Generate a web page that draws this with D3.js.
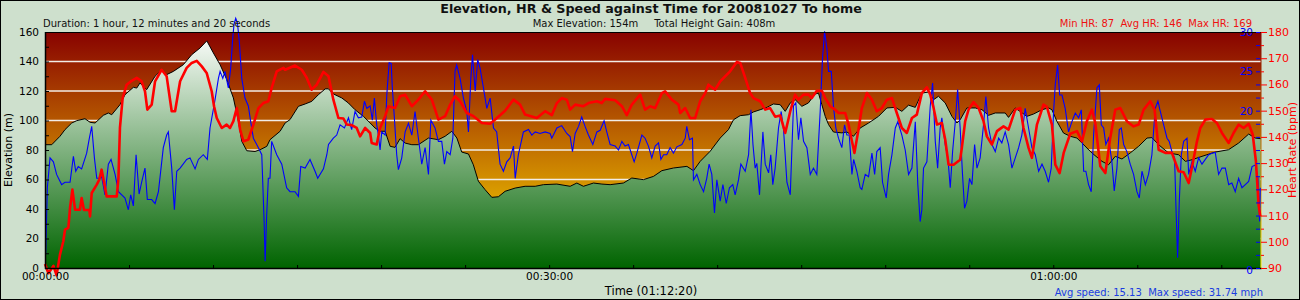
<!DOCTYPE html>
<html><head><meta charset="utf-8">
<script src="https://cdn.jsdelivr.net/npm/d3@7"></script>
<style>
body{margin:0;background:#fff}
svg{display:block}
text{font-family:"DejaVu Sans",Verdana,sans-serif}
</style>
</head><body>
<svg id="c" width="1300" height="300"></svg>
<script>
// ---------- DATA ----------
const durationMin = 72.333;
const timeTickValues = [0, 30, 60];
const timeTickLabels = ["00:00:00", "00:30:00", "01:00:00"];
const elevTickValues = [0, 20, 40, 60, 80, 100, 120, 140, 160];
const hrTickValues = [90, 100, 110, 120, 130, 140, 150, 160, 170, 180];
const speedTickValues = [0, 5, 10, 15, 20, 25, 30];
const titleText = "Elevation, HR & Speed against Time for 20081027 To home";
const durationText = "Duration: 1 hour, 12 minutes and 20 seconds";
const elevStatsText = "Max Elevation: 154m     Total Height Gain: 408m";
const hrStatsText = "Min HR: 87  Avg HR: 146  Max HR: 169";
const speedStatsText = "Avg speed: 15.13  Max speed: 31.74 mph";
const xTitle = "Time (01:12:20)";

// [minutes, metres]
const elevation = [[0,83.6],[0.40,83.6],[0.89,89.3],[1.19,93.8],[1.59,98.3],[1.89,99.9],[2.38,101.2],[2.68,98.8],[2.98,98.3],[3.47,103.5],[3.77,105.1],[3.97,103.9],[4.46,110.7],[4.76,117.5],[5.26,122.5],[5.46,122],[5.65,125.4],[6.05,120.9],[6.55,130],[6.95,134.5],[7.24,131.1],[7.64,133.3],[8.23,137.8],[8.73,144.6],[9.23,149.2],[9.63,154],[10.02,145.8],[10.42,137.8],[10.82,127.7],[11.21,115.3],[11.51,99.4],[11.71,85.9],[12.01,79.5],[12.50,79],[12.80,80.2],[13.20,82.5],[13.39,87],[13.99,92.7],[14.29,98.3],[14.58,100.6],[15.08,109.6],[15.48,111.2],[15.88,113],[16.27,117.5],[16.67,121.4],[16.86,121.5],[17.16,118],[17.66,115.3],[18.05,111.9],[18.45,107.3],[18.95,102.8],[19.35,98.3],[19.64,94.9],[19.94,92.7],[20.24,92.7],[20.54,82.5],[20.83,81.8],[21.13,87.7],[21.43,84.7],[21.83,83.6],[22.22,83.6],[22.82,88.1],[23.41,87],[23.81,89.3],[24.21,92.7],[24.51,88.1],[24.80,78.6],[25.20,77.3],[25.49,70],[25.79,58.8],[26.19,53.1],[26.59,47.9],[26.98,48.3],[27.38,52],[27.98,54.2],[28.57,55.4],[29.17,55.4],[29.66,56.5],[30.46,56.9],[31.25,55.4],[31.65,57.6],[32.04,55.4],[32.64,57.6],[33.14,56.9],[33.63,56.5],[34.42,57.6],[34.92,61],[35.61,59.9],[36.21,62.1],[36.71,66],[37.40,67.8],[38.20,68.9],[38.59,66],[38.99,72.3],[39.58,79.1],[40.18,88.1],[40.67,93.8],[40.97,100.5],[41.37,103.3],[41.86,103.9],[42.16,105.8],[42.56,107.3],[42.96,108.9],[43.35,111.2],[43.75,110.7],[44.05,106.2],[44.35,111.9],[44.64,114.1],[45.04,109.6],[45.43,111.9],[45.83,118],[46.03,118.5],[46.23,110.7],[46.43,102.8],[46.63,97.2],[46.92,92.2],[47.42,91.6],[47.72,92.2],[48.11,89.3],[48.51,94.9],[49.01,98.3],[49.60,102.8],[50.10,108.5],[50.60,108.9],[50.99,106.2],[51.39,110.4],[51.79,108.9],[52.18,118.6],[52.58,119.3],[52.88,114.1],[53.17,116.4],[53.57,111.9],[53.97,102.8],[54.27,98.3],[54.46,100.5],[54.86,108.5],[55.36,108.5],[55.76,107.3],[56.15,103.5],[56.55,105.1],[57.14,105.1],[57.34,102.1],[57.74,108.5],[58.43,102.8],[58.83,104.4],[59.33,107.3],[59.72,108.5],[59.92,107.3],[60.22,99.4],[60.61,91.5],[61.01,89.3],[61.41,88.1],[61.71,84.7],[62.30,78],[62.90,72.3],[63.29,70],[63.69,75.7],[64.09,73.9],[64.58,78],[65.08,82.5],[65.58,88.1],[65.87,88.4],[66.27,83.6],[66.86,78],[67.46,76.8],[67.86,72.3],[68.26,73.4],[68.85,75.7],[69.64,78.6],[70.43,80.2],[71.03,84.7],[71.63,90.8],[72.02,88.1],[72.33,87.7]];

// [minutes, bpm]
const heartRate = [[0,91.5],[0.2,88],[0.5,90.8],[0.69,87.2],[0.89,95.1],[1.09,100.2],[1.19,104.6],[1.39,105.3],[1.49,112.9],[1.63,119.9],[1.79,112.2],[2.08,112.2],[2.18,116.7],[2.32,112.1],[2.64,112.1],[2.68,109.7],[2.78,118.6],[3.08,121.8],[3.23,123.7],[3.37,127.5],[3.51,122.9],[3.67,117.3],[4.27,117.3],[4.37,124.3],[4.46,143.4],[4.62,154.8],[4.86,159.9],[5.16,161.4],[5.46,162.5],[5.75,161.2],[5.95,157.4],[6.09,150.4],[6.35,152.3],[6.55,161.2],[6.94,165.6],[7.24,163.1],[7.54,149.8],[7.74,149.8],[8.04,161.2],[8.43,166.3],[8.73,168.2],[9.03,169],[9.33,166.9],[9.62,164.4],[9.92,157.4],[10.06,151.7],[10.22,147.2],[10.52,143.4],[10.81,144.7],[11.01,143.4],[11.21,146],[11.41,151],[11.61,142.8],[11.81,138.3],[12.10,139],[12.40,144.7],[12.70,151],[12.99,152.9],[13.29,153.6],[13.49,158.7],[13.79,165],[14.19,166.3],[14.29,165.6],[14.88,167.2],[15.28,165.6],[15.58,162.5],[15.87,158],[16.17,159.9],[16.57,164.8],[16.87,163.1],[17.16,154.2],[17.46,147.2],[17.76,147],[17.96,144.7],[18.25,144.5],[18.55,143.4],[18.75,140.2],[19.05,143.4],[19.35,141.5],[19.44,137.7],[19.74,137.1],[19.94,143.4],[20.24,147.9],[20.44,151.7],[20.83,151],[21.13,155.5],[21.43,156.1],[21.83,151.7],[22.22,154.2],[22.62,157.4],[23.02,154.2],[23.41,146.6],[23.81,147.9],[24.11,152.3],[24.40,155.5],[24.70,153.6],[25.10,149.1],[25.50,147.9],[26.00,145.3],[26.49,145],[26.79,146.6],[27.38,150],[27.88,154.2],[28.27,152.3],[28.57,148.5],[29.27,147.2],[29.76,149.8],[30.16,148.3],[30.46,152.9],[30.75,154.8],[31.05,154.2],[31.25,150.4],[31.55,152.3],[32.04,151.7],[32.34,152.9],[32.84,153.6],[33.13,152.9],[33.33,154.5],[33.93,154],[34.33,151.7],[34.62,148.3],[34.92,152.3],[35.42,156.1],[35.71,150.4],[36.01,151.7],[36.31,151],[36.71,156.7],[36.90,157.4],[37.30,154.2],[37.70,152.3],[37.80,149.1],[38.10,151],[38.39,147.2],[38.69,147.2],[38.99,153.6],[39.29,156.7],[39.48,159.9],[39.88,158],[40.18,161.2],[40.77,165],[41.17,168.6],[41.37,168.2],[41.67,162.5],[41.96,156.7],[42.16,154.8],[42.56,153.6],[42.86,150.4],[43.15,151],[43.45,147.7],[43.75,148.2],[44.05,141.5],[44.35,149.8],[44.64,156.1],[44.84,154.2],[45.14,156.1],[45.44,156.1],[45.63,154.8],[45.93,157.6],[46.23,157.6],[46.43,154.8],[46.73,151.7],[47.02,150.4],[47.22,149.1],[47.62,149.1],[47.82,144.7],[48.02,138.3],[48.17,133.9],[48.41,142.8],[48.61,151],[48.91,156.7],[49.21,154.2],[49.50,149.8],[49.80,151],[50.10,154.2],[50.40,154.8],[50.69,149.1],[50.99,143.4],[51.29,141.5],[51.59,147.2],[51.88,148.5],[52.18,156.7],[52.48,158.9],[52.68,156.1],[52.88,151],[53.08,144.7],[53.37,145.3],[53.57,139],[53.77,129.4],[54.07,129.4],[54.46,131.3],[54.56,135.8],[54.76,146],[54.96,150.4],[55.26,153.3],[55.56,151],[55.85,146],[56.05,140.2],[56.35,137.1],[56.65,142.2],[57.04,144],[57.34,142.8],[57.74,150.4],[58.04,151],[58.23,143.4],[58.53,135.8],[58.73,132],[59.03,144.7],[59.42,152.3],[59.62,151.5],[59.92,144.7],[60.12,129.4],[60.38,126.2],[60.62,133.9],[61.01,141.2],[61.41,142.2],[61.71,138.3],[62.00,146],[62.30,150.4],[62.50,145.3],[62.80,128.8],[63.10,126.2],[63.39,139.6],[63.69,150.4],[63.99,151],[64.38,146],[64.78,144],[65.08,144.7],[65.38,150.4],[65.77,153.6],[66.03,150.4],[66.27,135.1],[66.67,133.9],[67.06,133.9],[67.46,126.9],[67.76,126.5],[68.06,122.4],[68.25,128.2],[68.55,138.2],[68.75,143.4],[69.05,146.6],[69.44,146.8],[69.74,145.3],[70.04,141.5],[70.44,137.7],[70.73,141.5],[71.03,144.7],[71.33,143.4],[71.63,145],[71.87,140.9],[72.06,130.7],[72.22,114.1],[72.32,109.7]];

// [minutes, mph]
const speed = [[0.04,1.7],[0.14,10.2],[0.30,14.0],[0.50,13.5],[0.69,11.9],[0.99,10.6],[1.19,10.9],[1.49,10.9],[1.69,14.2],[1.83,12.3],[1.98,12.9],[2.18,12.6],[2.48,14.6],[2.64,16.5],[2.78,18.0],[2.94,14.0],[3.08,11.4],[3.27,11.4],[3.37,11.6],[3.57,9.3],[3.77,13.2],[3.93,13.8],[4.17,11.9],[4.37,9.7],[4.76,8.9],[4.96,7.4],[5.10,9.3],[5.26,7.9],[5.42,14.4],[5.60,9.4],[5.75,10.9],[5.95,12.7],[6.09,8.7],[6.35,8.7],[6.55,8.2],[6.75,9.7],[7.04,15.3],[7.24,16.9],[7.34,17.3],[7.54,12.7],[7.70,7.4],[7.84,12.3],[8.04,12.7],[8.43,13.8],[8.63,14.0],[8.93,12.6],[9.13,13.8],[9.42,14.4],[9.66,13.8],[9.82,17.8],[10.12,21.4],[10.32,24.1],[10.42,25.0],[10.58,24.1],[10.71,25.0],[10.91,22.9],[11.05,25.4],[11.17,29.2],[11.25,31.0],[11.35,31.74],[11.45,31.2],[11.57,28.6],[11.71,24.1],[11.90,21.6],[12.10,20.6],[12.24,18.6],[12.40,16.5],[12.70,15.3],[12.90,14.4],[13.04,5.9],[13.10,0.85],[13.19,6.6],[13.29,11.4],[13.39,11.4],[13.49,16.1],[13.79,14.4],[14.09,13.2],[14.38,10.2],[14.58,9.7],[14.88,9.7],[15.08,9.1],[15.22,12.9],[15.48,12.7],[15.77,13.8],[16.07,12.3],[16.23,11.4],[16.57,12.6],[16.77,14.4],[16.87,15.7],[17.16,16.5],[17.36,16.9],[17.56,18.2],[17.82,17.8],[18.06,19.1],[18.25,17.6],[18.45,19.9],[18.65,19.1],[18.85,19.2],[19.01,21.2],[19.15,20.3],[19.35,20.6],[19.48,18.8],[19.60,21.6],[19.74,18.2],[19.84,16.9],[19.94,15.0],[20.04,17.3],[20.24,16.9],[20.34,22.0],[20.48,26.1],[20.60,26.0],[20.67,22.9],[20.79,19.1],[20.93,14.4],[21.03,12.5],[21.23,14.0],[21.43,17.3],[21.63,18.4],[21.83,16.9],[22.02,19.9],[22.22,16.5],[22.42,13.2],[22.62,15.3],[22.82,11.9],[22.96,18.8],[23.21,17.8],[23.41,16.1],[23.61,16.1],[23.77,13.2],[23.91,14.8],[24.11,14.4],[24.27,16.5],[24.40,25.0],[24.50,25.8],[24.70,24.1],[24.90,21.6],[25.10,19.9],[25.20,17.3],[25.34,24.1],[25.44,27.1],[25.60,22.5],[25.75,26.5],[25.89,25.4],[26.09,22.9],[26.29,20.3],[26.49,21.6],[26.69,17.8],[26.88,17.3],[27.08,13.2],[27.28,12.3],[27.48,13.5],[27.68,14.0],[27.88,15.5],[27.98,11.4],[28.17,14.4],[28.47,17.3],[28.77,17.6],[28.97,16.9],[29.17,17.3],[29.46,17.1],[29.76,17.3],[30.06,17.1],[30.16,16.5],[30.46,17.8],[30.75,18.1],[31.05,17.1],[31.25,16.7],[31.39,14.8],[31.55,17.1],[31.75,18.0],[31.94,19.2],[32.14,18.0],[32.34,16.9],[32.60,15.7],[32.84,17.3],[33.04,17.5],[33.27,18.7],[33.43,17.3],[33.63,15.7],[33.93,15.5],[34.13,15.0],[34.33,16.1],[34.52,15.5],[34.72,15.7],[34.92,14.4],[35.06,13.5],[35.22,14.6],[35.52,16.9],[35.71,16.5],[35.91,15.5],[36.11,14.0],[36.31,15.5],[36.51,15.9],[36.65,13.8],[36.81,14.4],[37.00,14.4],[37.20,15.3],[37.40,14.6],[37.60,15.4],[37.90,15.7],[38.10,16.5],[38.19,18.0],[38.35,16.3],[38.53,16.5],[38.59,11.2],[38.79,11.9],[38.99,10.6],[39.19,9.7],[39.38,11.4],[39.52,13.2],[39.68,11.9],[39.84,7.0],[39.98,11.2],[40.18,8.5],[40.34,10.6],[40.54,8.2],[40.73,10.2],[40.93,10.6],[41.07,9.3],[41.27,11.2],[41.41,13.2],[41.67,12.3],[41.87,14.4],[42.01,20.1],[42.13,15.7],[42.26,12.7],[42.36,13.3],[42.52,9.3],[42.72,17.3],[42.86,13.2],[43.06,12.1],[43.19,14.4],[43.31,10.6],[43.45,12.7],[43.65,17.8],[43.81,19.9],[43.95,17.6],[44.15,10.9],[44.35,9.3],[44.54,20.6],[44.68,21.0],[44.84,16.3],[44.98,19.1],[45.14,16.1],[45.34,15.3],[45.54,11.9],[45.73,12.7],[45.93,11.9],[46.13,19.9],[46.27,26.7],[46.39,30.1],[46.53,27.9],[46.63,25.0],[46.79,25.0],[46.92,20.6],[47.06,17.8],[47.22,16.5],[47.42,15.3],[47.58,18.2],[47.72,16.9],[47.86,16.9],[48.02,11.9],[48.12,13.8],[48.31,12.3],[48.51,10.2],[48.61,10.0],[48.81,11.9],[49.01,11.6],[49.21,14.6],[49.37,11.9],[49.50,14.8],[49.70,15.3],[49.84,10.9],[50.06,8.9],[50.20,11.9],[50.40,14.4],[50.60,17.8],[50.75,18.6],[50.99,16.9],[51.19,15.0],[51.39,11.9],[51.59,12.7],[51.79,18.6],[51.94,10.6],[52.08,5.9],[52.18,7.4],[52.28,12.7],[52.48,13.5],[52.68,20.6],[52.82,23.5],[52.98,16.1],[53.12,12.7],[53.27,17.8],[53.37,19.1],[53.57,15.7],[53.73,14.0],[53.87,10.2],[54.01,14.8],[54.17,18.6],[54.31,22.7],[54.46,17.8],[54.60,11.9],[54.72,7.6],[54.86,8.5],[55.02,11.4],[55.16,10.6],[55.32,15.7],[55.46,12.7],[55.65,14.0],[55.85,18.2],[55.99,21.8],[56.15,17.8],[56.35,15.7],[56.55,14.8],[56.75,16.5],[56.94,15.9],[57.14,17.3],[57.34,15.7],[57.54,12.7],[57.74,14.0],[57.94,15.3],[58.13,16.9],[58.33,20.3],[58.53,17.8],[58.73,15.3],[58.93,14.4],[59.13,12.3],[59.33,13.2],[59.52,12.3],[59.72,10.9],[59.88,12.7],[60.02,19.9],[60.12,23.3],[60.26,25.8],[60.38,22.0],[60.52,22.0],[60.71,20.3],[60.91,17.3],[61.11,18.6],[61.31,19.7],[61.51,19.1],[61.67,20.1],[61.81,12.3],[61.94,12.3],[62.10,10.6],[62.26,9.7],[62.40,16.9],[62.60,22.9],[62.74,23.3],[62.86,18.2],[63.00,17.8],[63.13,15.7],[63.29,16.5],[63.49,13.5],[63.63,9.8],[63.79,12.7],[63.93,17.6],[64.05,17.8],[64.19,15.7],[64.38,14.8],[64.58,13.2],[64.78,11.9],[64.98,9.7],[65.12,8.9],[65.28,12.3],[65.48,10.6],[65.67,11.9],[65.87,14.4],[66.07,20.3],[66.23,21.2],[66.37,19.9],[66.57,18.2],[66.77,16.5],[66.90,16.1],[67.06,14.8],[67.22,14.0],[67.30,7.9],[67.40,1.3],[67.50,8.5],[67.62,14.4],[67.76,16.1],[67.96,16.5],[68.06,11.9],[68.25,13.5],[68.45,12.3],[68.65,14.0],[68.85,13.2],[69.05,13.8],[69.25,14.4],[69.44,14.6],[69.64,14.7],[69.84,11.9],[70.04,12.7],[70.24,12.7],[70.44,10.6],[70.63,10.8],[70.83,9.7],[71.03,11.4],[71.23,10.2],[71.43,10.6],[71.63,11.0],[71.83,12.9],[72.02,13.1],[72.18,11.4],[72.28,5.9],[72.32,10.2]];

// ---------- LAYOUT ----------
const W = 1300, H = 300;
const L = 45, R = 1260.5, T = 32, B = 268;
const svg = d3.select("#c");

const x = d3.scaleLinear().domain([0, durationMin]).range([L, R]);
const yE = d3.scaleLinear().domain([0, 160]).range([B, T]);
const yH = d3.scaleLinear().domain([90, 180]).range([B, T]);
const yS = d3.scaleLinear().domain([0, 30]).range([B, T]);

const defs = svg.append("defs");
const gBg = defs.append("linearGradient").attr("id", "bgGrad")
  .attr("gradientUnits", "userSpaceOnUse").attr("x1", 0).attr("x2", 0).attr("y1", T).attr("y2", B);
gBg.append("stop").attr("offset", 0).attr("stop-color", "#880200");
gBg.append("stop").attr("offset", 1).attr("stop-color", "#ffe400");
const gEl = defs.append("linearGradient").attr("id", "elGrad")
  .attr("gradientUnits", "userSpaceOnUse").attr("x1", 0).attr("x2", 0).attr("y1", T).attr("y2", B);
gEl.append("stop").attr("offset", 0).attr("stop-color", "#ffffff");
gEl.append("stop").attr("offset", 1).attr("stop-color", "#006400");

// page background + frame
svg.append("rect").attr("x", 0.5).attr("y", 0.5).attr("width", W - 1).attr("height", H - 1)
  .attr("fill", "#cee0cd").attr("stroke", "#000").attr("stroke-width", 1);

// plot background
svg.append("rect").attr("x", L).attr("y", T).attr("width", R - L + 1).attr("height", B - T)
  .attr("fill", "url(#bgGrad)");

// grid lines (elevation)
svg.append("g").selectAll("line").data(elevTickValues.filter(v => v > 0 && v < 160)).join("line")
  .attr("x1", L).attr("x2", R).attr("y1", d => yE(d)).attr("y2", d => yE(d))
  .attr("stroke", "#f2ece6").attr("stroke-width", 1.3);

// speed labels (behind elevation area)
const spLab = svg.append("g").attr("transform", `translate(${R},0)`)
  .call(d3.axisLeft(yS).tickValues(speedTickValues.filter(v => v > 0)).tickSize(0).tickPadding(7.5));
spLab.select(".domain").remove();
spLab.selectAll("text").attr("fill", "#0000ff").attr("font-size", "10.5px").attr("font-family", "DejaVu Sans");

// elevation area + line
svg.append("path").datum(elevation)
  .attr("d", d3.area().x(d => x(d[0])).y0(B).y1(d => yE(d[1])))
  .attr("fill", "url(#elGrad)");
svg.append("path").datum(elevation)
  .attr("d", d3.line().x(d => x(d[0])).y(d => yE(d[1])))
  .attr("fill", "none").attr("stroke", "#000").attr("stroke-width", 1);

// speed line
svg.append("path").datum(speed)
  .attr("d", d3.line().x(d => x(d[0])).y(d => yS(d[1])))
  .attr("fill", "none").attr("stroke", "#0000ff").attr("stroke-width", 1.1);

// heart rate line
svg.append("path").datum(heartRate)
  .attr("d", d3.line().x(d => x(d[0])).y(d => yH(d[1])))
  .attr("fill", "none").attr("stroke", "#ff0000").attr("stroke-width", 2.6)
  .attr("stroke-linejoin", "round");

// frame lines of plot
svg.append("line").attr("x1", L).attr("x2", R).attr("y1", T + 0.5).attr("y2", T + 0.5).attr("stroke", "#000").attr("stroke-width", 1);
svg.append("line").attr("x1", L + 0.5).attr("x2", L + 0.5).attr("y1", T).attr("y2", B + 1).attr("stroke", "#000").attr("stroke-width", 1.5);
svg.append("line").attr("x1", L).attr("x2", R + 1).attr("y1", B + 0.5).attr("y2", B + 0.5).attr("stroke", "#000").attr("stroke-width", 1.5);

// left axis
const leftAx = svg.append("g").attr("transform", `translate(${L},0)`)
  .call(d3.axisLeft(yE).tickValues(d3.range(0, 161, 10)).tickSize(-4).tickPadding(6)
    .tickFormat(d => d % 20 === 0 ? d : ""));
leftAx.select(".domain").remove();
leftAx.selectAll("line").attr("stroke", "#000");
leftAx.selectAll("text").attr("fill", "#000").attr("font-size", "10.5px").attr("font-family", "DejaVu Sans");

// bottom axis
const fiveMin = d3.range(0, durationMin, 5);
const botAx = svg.append("g").attr("transform", `translate(0,${B})`)
  .call(d3.axisBottom(x).tickValues(fiveMin).tickSize(-3).tickPadding(5)
    .tickFormat(d => { const i = timeTickValues.indexOf(d); return i >= 0 ? timeTickLabels[i] : ""; }));
botAx.select(".domain").remove();
botAx.selectAll("line").attr("stroke", "#000");
botAx.selectAll("text").attr("fill", "#000").attr("font-size", "10.5px").attr("font-family", "DejaVu Sans");

// right HR axis (minor + major)
const hrMinor = svg.append("g").attr("transform", `translate(${R + 0.5},0)`)
  .call(d3.axisRight(yH).tickValues(d3.range(95, 180, 10)).tickSize(3).tickFormat(""));
hrMinor.select(".domain").remove();
hrMinor.selectAll("line").attr("stroke", "#ff0000");
const hrAx = svg.append("g").attr("transform", `translate(${R + 0.5},0)`)
  .call(d3.axisRight(yH).tickValues(hrTickValues).tickSize(6).tickPadding(1));
hrAx.select(".domain").remove();
hrAx.selectAll("line").attr("stroke", "#ff0000");
hrAx.selectAll("text").attr("fill", "#ff0000").attr("font-size", "11px").attr("font-family", "DejaVu Sans");

// speed ticks (in front)
const spTicks = svg.append("g").attr("transform", `translate(${R - 0.5},0)`)
  .call(d3.axisLeft(yS).tickValues(d3.range(0, 18.5).map(i => i * 5 / 3)).tickSize(4).tickFormat(""));
spTicks.select(".domain").remove();
spTicks.selectAll("line").attr("stroke", "#0000ff");
const spZero = svg.append("g").attr("transform", `translate(${R},0)`)
  .call(d3.axisLeft(yS).tickValues([0]).tickSize(0).tickPadding(7.5));
spZero.select(".domain").remove();
spZero.selectAll("text").attr("fill", "#0000ff").attr("font-size", "10.5px").attr("font-family", "DejaVu Sans").attr("dy", "0.55em");

// axis titles
svg.append("text").attr("transform", `translate(12,${(T + B) / 2}) rotate(-90)`)
  .attr("text-anchor", "middle").attr("font-size", "11px").attr("fill", "#000").text("Elevation (m)");
svg.append("text").attr("transform", `translate(1296,${(T + B) / 2}) rotate(-90)`)
  .attr("text-anchor", "middle").attr("font-size", "11px").attr("fill", "#ff0000").text("Heart Rate (bpm)");
svg.append("text").attr("x", 651).attr("y", 295).attr("text-anchor", "middle")
  .attr("font-size", "11.5px").attr("fill", "#000").text(xTitle);

// titles
svg.append("text").attr("x", 651).attr("y", 12.5).attr("text-anchor", "middle")
  .attr("font-size", "12.7px").attr("font-weight", "bold").attr("fill", "#111").text(titleText);
svg.append("text").attr("x", 43).attr("y", 27).attr("font-size", "10px").attr("fill", "#111").text(durationText);
svg.append("text").attr("x", 654).attr("y", 27).attr("text-anchor", "middle").attr("xml:space", "preserve")
  .style("white-space", "pre").attr("font-size", "10px").attr("fill", "#111").text(elevStatsText);
svg.append("text").attr("x", 1252).attr("y", 26.5).attr("text-anchor", "end")
  .style("white-space", "pre").attr("font-size", "10px").attr("fill", "#ee1111").text(hrStatsText);
svg.append("text").attr("x", 1263).attr("y", 296).attr("text-anchor", "end")
  .style("white-space", "pre").attr("font-size", "10px").attr("fill", "#1a3ce0").text(speedStatsText);
</script>
</body></html>
